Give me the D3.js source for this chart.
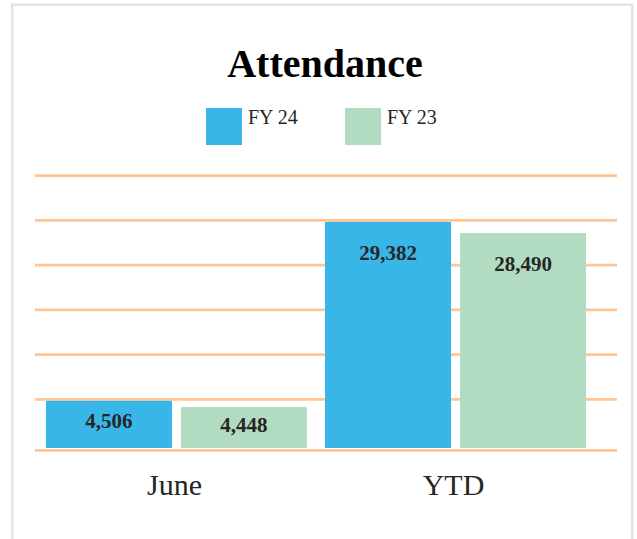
<!DOCTYPE html>
<html>
<head>
<meta charset="utf-8">
<title>Attendance</title>
<script src="https://d3js.org/d3.v7.min.js"></script>
<style>
body { margin: 0; background: #fff; }
text { font-family: "Liberation Serif", "DejaVu Serif", serif; }
</style>
</head>
<body>
<script>
// data
var categories = ["June", "YTD"];
var seriesNames = ["FY 24", "FY 23"];
var seriesColors = ["#39b6e8", "#b2dcc1"];
// printed labels
var fy24Labels = [4506, 29382];
var fy23Labels = [4448, 28490];
// bar heights as drawn (read against the gridlines)
var fy24Bars = [5800, 29800];
var fy23Bars = [4950, 28300];
var yTicks = [6000, 12000, 18000, 24000, 30000, 36000];

var width = 637, height = 539;

var svg = d3.select("body").append("svg")
    .attr("width", width)
    .attr("height", height);

// frame
svg.append("rect")
    .attr("x", 12.25).attr("y", 4.75)
    .attr("width", 620).attr("height", 600)
    .attr("fill", "#fff")
    .attr("stroke", "#e3e5e5")
    .attr("stroke-width", 2.5);

var x0 = d3.scaleBand()
    .domain(categories)
    .range([37, 595])
    .paddingInner(0.0645)
    .paddingOuter(0.032);

var x1 = d3.scaleBand()
    .domain(seriesNames)
    .range([0, x0.bandwidth()])
    .paddingInner(0.0667);

var y = d3.scaleLinear()
    .domain([0, 36000])
    .range([444, 175.7]);

var barBottom = y(0) + 4;   // bars sit a little below zero
var axisY = y(0) + 6.3;     // category axis line

// gridlines
svg.append("g").selectAll("line")
    .data(yTicks)
    .enter().append("line")
    .attr("x1", 35).attr("x2", 617)
    .attr("y1", function(d) { return y(d); })
    .attr("y2", function(d) { return y(d); })
    .attr("stroke", "#ffc691")
    .attr("stroke-width", 2.75);

svg.append("line")
    .attr("x1", 35).attr("x2", 617)
    .attr("y1", axisY).attr("y2", axisY)
    .attr("stroke", "#ffc691")
    .attr("stroke-width", 2.75);

var rows = [];
categories.forEach(function(c, i) {
    rows.push({cat: c, s: seriesNames[0], v: fy24Bars[i], label: fy24Labels[i], color: seriesColors[0]});
    rows.push({cat: c, s: seriesNames[1], v: fy23Bars[i], label: fy23Labels[i], color: seriesColors[1]});
});

svg.append("g").selectAll("rect")
    .data(rows)
    .enter().append("rect")
    .attr("x", function(d) { return x0(d.cat) + x1(d.s); })
    .attr("y", function(d) { return y(d.v); })
    .attr("width", x1.bandwidth())
    .attr("height", function(d) { return barBottom - y(d.v); })
    .attr("fill", function(d) { return d.color; });

var fmt = d3.format(",");
svg.append("g").selectAll("text")
    .data(rows)
    .enter().append("text")
    .attr("x", function(d) { return x0(d.cat) + x1(d.s) + x1.bandwidth() / 2; })
    .attr("y", function(d) {
        var top = y(d.v), mid = (y(d.v) + barBottom) / 2;
        return Math.min(top + 38, mid + 4);
    })
    .attr("text-anchor", "middle")
    .attr("font-size", 21)
    .attr("font-weight", "bold")
    .attr("fill", "#262626")
    .text(function(d) { return fmt(d.label); });

// category labels
svg.append("g").selectAll("text")
    .data(categories)
    .enter().append("text")
    .attr("x", function(d) { return x0(d) + x0.bandwidth() / 2 - 2; })
    .attr("y", 495)
    .attr("text-anchor", "middle")
    .attr("font-size", 30)
    .attr("fill", "#262626")
    .text(function(d) { return d; });

// title
svg.append("text")
    .attr("x", 325).attr("y", 77)
    .attr("text-anchor", "middle")
    .attr("font-size", 40)
    .attr("font-weight", "bold")
    .attr("fill", "#000")
    .text("Attendance");

// legend
var legend = svg.append("g").selectAll("g")
    .data(seriesNames)
    .enter().append("g")
    .attr("transform", function(d, i) { return "translate(" + (206 + i * 139) + ",108)"; });

legend.append("rect")
    .attr("width", 36).attr("height", 37)
    .attr("fill", function(d, i) { return seriesColors[i]; });

legend.append("text")
    .attr("x", 42).attr("y", 16)
    .attr("font-size", 20)
    .attr("fill", "#262626")
    .text(function(d) { return d; });
</script>
</body>
</html>
